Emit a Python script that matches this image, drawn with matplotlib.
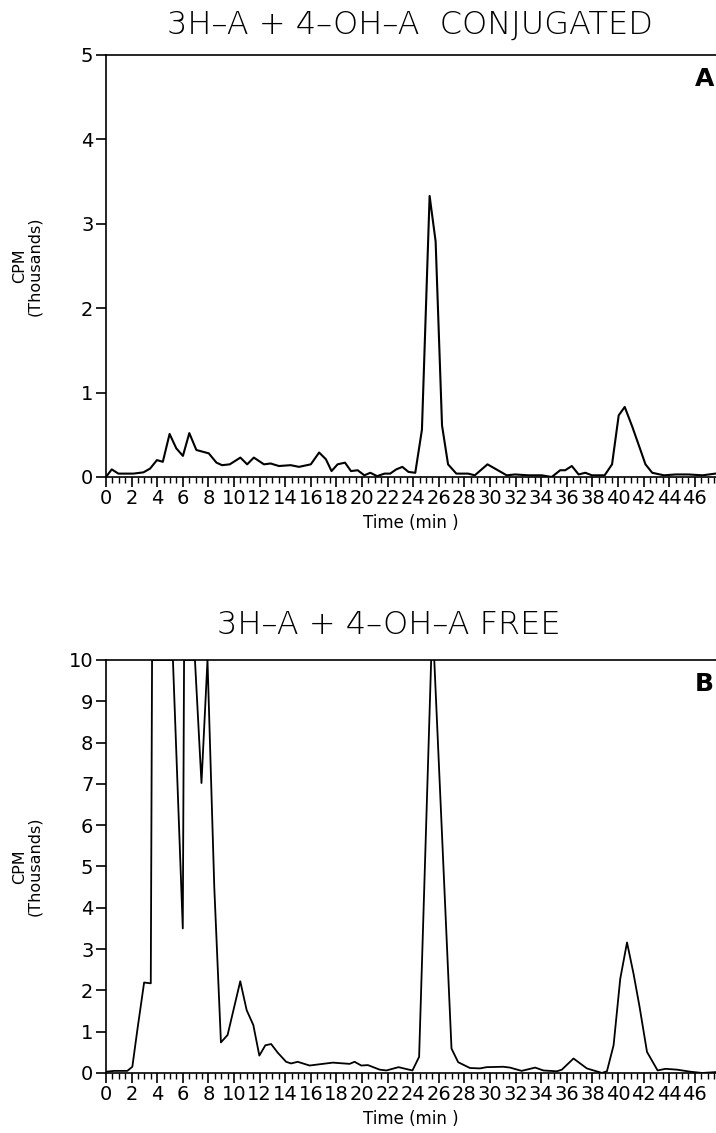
import numpy as np
import matplotlib
matplotlib.use('Agg')
import matplotlib.pyplot as plt
from matplotlib.ticker import MultipleLocator

plt.rcParams['font.family'] = ['DejaVu Sans']

# panel A : conjugated fraction (time in min, CPM in thousands)
time_a = [0, 0.45, 0.97, 2.14, 2.93, 3.45, 3.98, 4.44, 4.97, 5.49,
          6.01, 6.51, 7.06, 8.03, 8.63, 9.07, 9.67, 10.5, 11.03, 11.55,
          12.34, 12.86, 13.51, 14.43, 15.08, 16.0, 16.65, 17.18, 17.62, 18.09,
          18.67, 19.14, 19.66, 20.18, 20.65, 21.18, 21.75, 22.2, 22.67, 23.15,
          23.63, 24.16, 24.68, 25.28, 25.75, 26.25, 26.72, 27.37, 28.29, 28.81,
          29.8, 30.38, 31.3, 31.95, 33.0, 34.04, 34.82, 35.48, 35.87, 36.39,
          36.92, 37.44, 37.96, 38.95, 39.53, 40.05, 40.52, 41.1, 41.75, 42.14,
          42.67, 43.58, 44.5, 45.5, 46.6, 47.6]
cpm_a = [0, 0.09, 0.04, 0.04, 0.055, 0.10, 0.20, 0.18, 0.51, 0.34,
         0.25, 0.52, 0.32, 0.28, 0.17, 0.14, 0.15, 0.23, 0.15, 0.23,
         0.15, 0.16, 0.13, 0.14, 0.12, 0.15, 0.29, 0.21, 0.07, 0.15,
         0.17, 0.07, 0.08, 0.02, 0.05, 0.01, 0.04, 0.04, 0.09, 0.12,
         0.06, 0.05, 0.56, 3.33, 2.79, 0.61, 0.15, 0.04, 0.04, 0.02,
         0.15, 0.10, 0.02, 0.03, 0.02, 0.02, 0.0, 0.08, 0.08, 0.13,
         0.03, 0.05, 0.02, 0.02, 0.15, 0.73, 0.83, 0.6, 0.32, 0.15,
         0.05, 0.02, 0.03, 0.03, 0.02, 0.04]

# panel B : free fraction (values off scale are read as the top, 10)
time_b = [0, 0.63, 1.67, 2.06, 2.45, 2.98, 3.5, 3.6, 5.23, 6.0,
          6.1, 6.95, 7.46, 7.93, 8.46, 8.98, 9.5, 10.49, 10.99, 11.51,
          11.98, 12.45, 12.9, 13.42, 14.07, 14.46, 14.98, 15.9, 16.94, 17.72,
          19.03, 19.42, 19.94, 20.46, 21.38, 21.9, 22.85, 23.94, 24.46, 25.5,
          26.99, 27.51, 28.43, 29.21, 29.73, 31.03, 31.56, 32.47, 33.52, 34.17,
          35.22, 35.61, 36.52, 37.56, 38.74, 39.13, 39.65, 40.17, 40.7, 41.21,
          41.68, 42.26, 43.09, 43.7, 44.6, 45.65, 46.57, 47.6]
cpm_b = [0.03, 0.05, 0.05, 0.15, 1.04, 2.19, 2.17, 10, 10, 3.5,
         10, 10, 7.02, 10, 4.5, 0.74, 0.92, 2.22, 1.52, 1.16,
         0.42, 0.67, 0.70, 0.49, 0.27, 0.23, 0.27, 0.18, 0.22, 0.25,
         0.22, 0.27, 0.18, 0.19, 0.08, 0.06, 0.14, 0.06, 0.39, 11.0,
         0.59, 0.26, 0.12, 0.11, 0.14, 0.15, 0.13, 0.05, 0.13, 0.06,
         0.04, 0.08, 0.35, 0.11, 0.0, 0.04, 0.67, 2.28, 3.16, 2.40,
         1.60, 0.51, 0.06, 0.10, 0.08, 0.03, 0.0, 0.02]

x_ticks = list(range(0, 47, 2))

fig = plt.figure(figsize=(7.16, 11.33), dpi=100)
ax_a = fig.add_axes([0.148, 0.579, 0.852, 0.3725])
ax_b = fig.add_axes([0.148, 0.053, 0.852, 0.3645])


def style(ax, ymax, letter):
    ax.set_xlim(0, 47.65)
    ax.set_ylim(0, ymax)
    ax.spines['right'].set_visible(False)
    for s in ['left', 'top', 'bottom']:
        ax.spines[s].set_linewidth(1.2)
    ax.set_xticks(x_ticks)
    ax.xaxis.set_minor_locator(MultipleLocator(0.5))
    ax.set_yticks(range(0, ymax + 1, 1))
    ax.tick_params(axis='both', which='major', direction='out', length=7,
                   width=1.2, labelsize=14, pad=2)
    ax.tick_params(axis='x', which='minor', direction='out', length=4, width=1.0)
    ax.set_xlabel('Time (min )', fontsize=12, labelpad=4)
    ax.set_ylabel('CPM\n(Thousands)', fontsize=11.5, linespacing=0.95)
    ax.yaxis.set_label_coords(-0.105, 0.5)
    ax.text(0.997, 0.972, letter, transform=ax.transAxes, ha='right', va='top',
            fontsize=18, fontweight='bold')


ax_a.plot(time_a, cpm_a, color='black', linewidth=1.5)
style(ax_a, 5, 'A')
ax_b.plot(time_b, cpm_b, color='black', linewidth=1.3)
style(ax_b, 10, 'B')

fig.text(0.573, 0.978, '3H\u2013A + 4\u2013OH\u2013A  CONJUGATED', ha='center',
         va='center', fontsize=23, fontweight='light')
fig.text(0.543, 0.448, '3H\u2013A + 4\u2013OH\u2013A FREE', ha='center',
         va='center', fontsize=23, fontweight='light')

fig.savefig('out.png', dpi=100)
